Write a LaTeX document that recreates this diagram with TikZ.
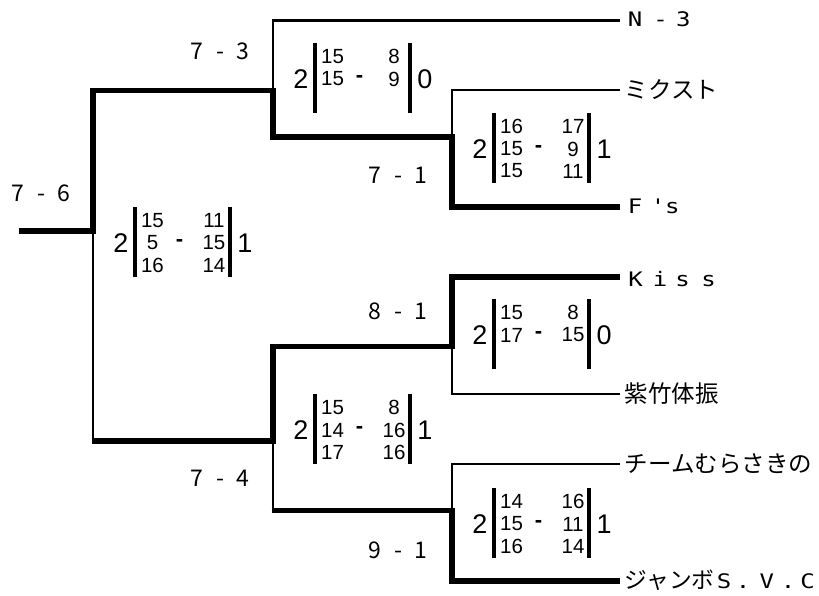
\documentclass[tikz,border=0pt]{standalone}
\usepackage{fontspec}
\setmainfont{Liberation Sans}
\newfontfamily\jpfont{Noto Sans CJK JP}
\newfontfamily\latwide[FakeStretch=1.2]{DejaVu Sans Mono}
\newcommand\fwc[1]{\makebox[1em]{#1}}
\newcommand\lc[2][23.5bp]{\makebox[#1]{#2}}
\newcommand\jp[2][23.5bp]{{\jpfont\fontsize{#1}{26bp}\selectfont #2}}
\newcommand\lat[1]{{\latwide\fontsize{20bp}{26bp}\selectfont #1}}
\newcommand\ScoreBox[7]{%
  \begin{scope}[shift={(#1)}]
    \draw[scorebar] (0,0) coordinate (#2-tl) -- (0,70) coordinate (#2-bl);
    \draw[scorebar] (95,0) coordinate (#2-tr) -- (95,70) coordinate (#2-br);
    \node[bigdigit] (#2-sets) at (-14,36) {2};
    \node[bigdigit] (#2-res) at (110,36) {#7};
    \node[smalldigit] (#2-a1) at (17.5,13.5) {#3};
    \node[smalldigit] (#2-b1) at (79,13.5) {#4};
    \node[smalldigit] (#2-a2) at (17.5,36) {#5};
    \node[dashsign] (#2-dash) at (44.5,36) {-};
    \node[smalldigit] (#2-b2) at (79,36) {#6};
  \end{scope}}
\newcommand\ScoreThird[4]{%
  \begin{scope}[shift={(#1)}]
    \node[smalldigit] (#2-a3) at (17.5,58) {#3};
    \node[smalldigit] (#2-b3) at (79,58) {#4};
  \end{scope}}
\begin{document}
\begin{tikzpicture}[x=1bp,y=-1bp,
  bthin/.style={line width=2.7bp},
  bthick/.style={line width=5.5bp},
  scorebar/.style={line width=3.5bp},
  bigdigit/.style={font=\fontsize{27bp}{30bp}\selectfont, inner sep=0pt},
  smalldigit/.style={font=\fontsize{20.5bp}{22bp}\selectfont, inner sep=0pt},
  dashsign/.style={font=\bfseries\fontsize{22bp}{24bp}\selectfont, inner sep=0pt},
  score/.style={font={\jpfont\fontsize{23bp}{26bp}\selectfont}, inner sep=0pt},
  team/.style={anchor=base west, inner xsep=4.5bp, inner ysep=0pt}]
\fill[white] (0,0) rectangle (819,596);
\useasboundingbox (0,0) rectangle (819,596);

% team names
\node[team] (tN3)   at (620,26.3)  {\lat{\lc[21bp]{N}\lc[30bp]{-}\lc[15.5bp]{3}}};
\node[team] (tMix)  at (620,98.5)  {\jp{ミクスト}};
\node[team] (tFs)   at (620,213.3) {\lat{\lc[21bp]{F}\lc[22.5bp]{\textquotesingle}\lc[8.5bp]{s}}};
\node[team] (tKiss) at (620,286)   {\lat{\lc[22bp]{K}\lc[27bp]{i}\lc[18bp]{s}\lc[34bp]{s}}};
\node[team] (tShi)  at (620,402.5) {\jp{紫竹体振}};
\node[team] (tMura) at (620,472.5) {\jp{チームむらさきの}};
\node[team] (tJum)  at (620,588.8) {\jp[22.75bp]{ジャンボ}\lat{\lc[19bp]{S}\lc[19bp]{.}\lc[28.5bp]{V}\lc[14bp]{.}\lc[25bp]{C}}};

% bracket junctions
\coordinate (r0)   at (19,231);
\coordinate (f)    at (93,231);
\coordinate (fTop) at (93,90.5);
\coordinate (fBot) at (93,441);
\coordinate (sT)   at (273,90.5);
\coordinate (sTup) at (273,20.7);
\coordinate (sTdn) at (273,137);
\coordinate (sB)   at (273,441);
\coordinate (sBup) at (273,346.5);
\coordinate (sBdn) at (273,510.5);
\coordinate (qA)   at (452,137);
\coordinate (qAup) at (452,90);
\coordinate (qAdn) at (452,207);
\coordinate (qB)   at (452,346.5);
\coordinate (qBup) at (452,277);
\coordinate (qBdn) at (452,394);
\coordinate (qC)   at (452,510.5);
\coordinate (qCup) at (452,464);
\coordinate (qCdn) at (452,581);

% thin lines
\draw[bthin] (sT) -- (sTup) -- (sTup -| tN3.west);
\draw[bthin] (qA) -- (qAup) -- (qAup -| tMix.west);
\draw[bthin] (f) -- (fBot);
\draw[bthin] (sB) -- (sBdn);
\draw[bthin] (qB) -- (qBdn) -- (qBdn -| tShi.west);
\draw[bthin] (qC) -- (qCup) -- (qCup -| tMura.west);

% thick lines
\draw[bthick] (r0) -- (f) -- (fTop) -- (sT) -- (sTdn) -- (qA) -- (qAdn) -- (qAdn -| tFs.west);
\draw[bthick, shorten <=-1.35bp] (fBot) -- (sB) -- (sBup) -- (qB) -- (qBup) -- (qBup -| tKiss.west);
\draw[bthick, shorten <=-1.35bp] (sBdn) -- (qC) -- (qCdn) -- (qCdn -| tJum.west);

% match scores
\node[score] (m76) at (41,193.5) {\fwc{7}\fwc{-}\fwc{6}};
\node[score] (m73) at (220,51)   {\fwc{7}\fwc{-}\fwc{3}};
\node[score] (m71) at (398,175)  {\fwc{7}\fwc{-}\fwc{1}};
\node[score] (m81) at (398,311)  {\fwc{8}\fwc{-}\fwc{1}};
\node[score] (m74) at (220,478)  {\fwc{7}\fwc{-}\fwc{4}};
\node[score] (m91) at (398,550)  {\fwc{9}\fwc{-}\fwc{1}};

% set score boxes
\ScoreBox{135,207}{bF}{15}{11}{5}{15}{1}
\ScoreThird{135,207}{bF}{16}{14}
\ScoreBox{315,43}{bS1}{15}{8}{15}{9}{0}
\ScoreBox{494,113}{bQ1}{16}{17}{15}{9}{1}
\ScoreThird{494,113}{bQ1}{15}{11}
\ScoreBox{494,299}{bQ2}{15}{8}{17}{15}{0}
\ScoreBox{315,394}{bS2}{15}{8}{14}{16}{1}
\ScoreThird{315,394}{bS2}{17}{16}
\ScoreBox{494,488}{bQ3}{14}{16}{15}{11}{1}
\ScoreThird{494,488}{bQ3}{16}{14}
\end{tikzpicture}
\end{document}
